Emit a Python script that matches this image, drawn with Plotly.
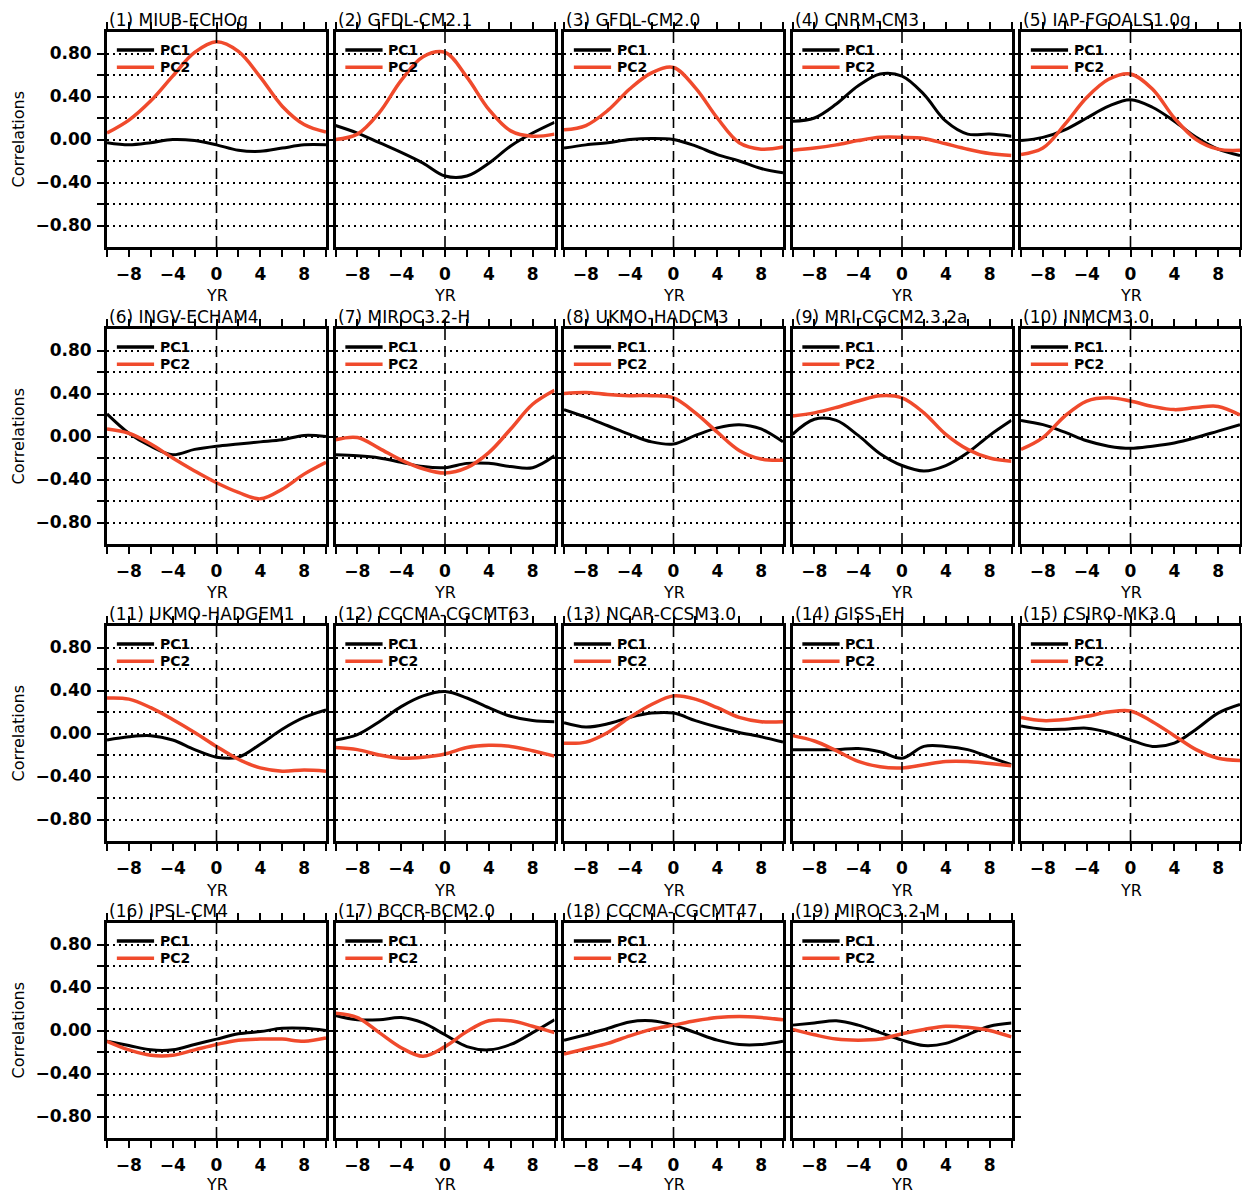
import plotly.graph_objects as go

# ---------------- data ----------------
lags = [-10, -8, -6, -4, -2, 0, 2, 4, 6, 8, 10]

models = ["(1) MIUB-ECHOg", "(2) GFDL-CM2.1", "(3) GFDL-CM2.0", "(4) CNRM-CM3",
          "(5) IAP-FGOALS1.0g", "(6) INGV-ECHAM4", "(7) MIROC3.2-H", "(8) UKMO-HADCM3",
          "(9) MRI-CGCM2.3.2a", "(10) INMCM3.0", "(11) UKMO-HADGEM1", "(12) CCCMA-CGCMT63",
          "(13) NCAR-CCSM3.0", "(14) GISS-EH", "(15) CSIRO-MK3.0", "(16) IPSL-CM4",
          "(17) BCCR-BCM2.0", "(18) CCCMA-CGCMT47", "(19) MIROC3.2-M"]

pc1_01 = [-0.03, -0.05, -0.03, 0.00, -0.01, -0.05, -0.10, -0.11, -0.08, -0.05, -0.05]
pc2_01 = [0.06, 0.18, 0.36, 0.59, 0.81, 0.91, 0.82, 0.58, 0.31, 0.14, 0.07]
pc1_02 = [0.13, 0.06, -0.03, -0.12, -0.22, -0.34, -0.34, -0.22, -0.06, 0.06, 0.16]
pc2_02 = [0.00, 0.05, 0.25, 0.55, 0.77, 0.81, 0.58, 0.28, 0.08, 0.03, 0.05]
pc1_03 = [-0.08, -0.05, -0.03, 0.00, 0.01, 0.00, -0.06, -0.14, -0.20, -0.27, -0.31]
pc2_03 = [0.09, 0.13, 0.27, 0.47, 0.62, 0.67, 0.48, 0.20, -0.03, -0.09, -0.07]
pc1_04 = [0.17, 0.20, 0.33, 0.50, 0.61, 0.59, 0.42, 0.17, 0.05, 0.05, 0.03]
pc2_04 = [-0.10, -0.08, -0.05, -0.01, 0.02, 0.02, 0.01, -0.04, -0.09, -0.13, -0.15]
pc1_05 = [-0.01, 0.02, 0.09, 0.20, 0.31, 0.37, 0.30, 0.17, 0.02, -0.09, -0.15]
pc2_05 = [-0.14, -0.08, 0.14, 0.39, 0.56, 0.61, 0.47, 0.20, 0.00, -0.09, -0.10]
pc1_06 = [0.21, 0.03, -0.09, -0.17, -0.12, -0.09, -0.07, -0.05, -0.03, 0.01, 0.00]
pc2_06 = [0.07, 0.03, -0.07, -0.20, -0.32, -0.43, -0.52, -0.58, -0.49, -0.35, -0.24]
pc1_07 = [-0.17, -0.18, -0.20, -0.24, -0.28, -0.29, -0.25, -0.25, -0.28, -0.29, -0.18]
pc2_07 = [-0.03, -0.01, -0.11, -0.22, -0.30, -0.34, -0.29, -0.15, 0.07, 0.30, 0.43]
pc1_08 = [0.25, 0.18, 0.10, 0.02, -0.05, -0.07, 0.01, 0.08, 0.11, 0.07, -0.05]
pc2_08 = [0.40, 0.41, 0.39, 0.38, 0.38, 0.36, 0.22, 0.04, -0.13, -0.21, -0.22]
pc1_09 = [0.02, 0.16, 0.15, 0.01, -0.16, -0.27, -0.32, -0.27, -0.15, 0.01, 0.15]
pc2_09 = [0.19, 0.22, 0.27, 0.33, 0.38, 0.36, 0.22, 0.02, -0.12, -0.20, -0.23]
pc1_10 = [0.15, 0.11, 0.04, -0.04, -0.09, -0.11, -0.09, -0.06, -0.01, 0.05, 0.11]
pc2_10 = [-0.12, -0.01, 0.19, 0.33, 0.36, 0.33, 0.28, 0.25, 0.27, 0.28, 0.20]
pc1_11 = [-0.06, -0.03, -0.02, -0.06, -0.15, -0.22, -0.22, -0.10, 0.04, 0.15, 0.22]
pc2_11 = [0.33, 0.32, 0.24, 0.13, 0.01, -0.12, -0.24, -0.32, -0.35, -0.34, -0.35]
pc1_12 = [-0.06, -0.01, 0.11, 0.25, 0.35, 0.39, 0.33, 0.24, 0.16, 0.12, 0.11]
pc2_12 = [-0.13, -0.15, -0.20, -0.23, -0.22, -0.19, -0.13, -0.11, -0.12, -0.16, -0.21]
pc1_13 = [0.10, 0.06, 0.09, 0.15, 0.19, 0.19, 0.12, 0.06, 0.01, -0.03, -0.08]
pc2_13 = [-0.09, -0.08, 0.01, 0.15, 0.27, 0.35, 0.32, 0.24, 0.15, 0.11, 0.11]
pc1_14 = [-0.15, -0.15, -0.15, -0.14, -0.17, -0.23, -0.12, -0.12, -0.15, -0.22, -0.29]
pc2_14 = [-0.02, -0.07, -0.16, -0.26, -0.31, -0.32, -0.29, -0.26, -0.26, -0.28, -0.30]
pc1_15 = [0.07, 0.04, 0.04, 0.05, 0.01, -0.06, -0.12, -0.09, 0.04, 0.19, 0.27]
pc2_15 = [0.15, 0.12, 0.13, 0.16, 0.20, 0.21, 0.11, -0.02, -0.15, -0.23, -0.25]
pc1_16 = [-0.10, -0.14, -0.18, -0.18, -0.13, -0.08, -0.03, -0.01, 0.02, 0.02, 0.00]
pc2_16 = [-0.10, -0.18, -0.23, -0.23, -0.18, -0.13, -0.09, -0.08, -0.08, -0.10, -0.07]
pc1_17 = [0.14, 0.10, 0.10, 0.12, 0.07, -0.04, -0.15, -0.18, -0.13, -0.02, 0.10]
pc2_17 = [0.16, 0.12, -0.02, -0.16, -0.24, -0.15, -0.01, 0.09, 0.09, 0.04, -0.02]
pc1_18 = [-0.09, -0.04, 0.02, 0.08, 0.09, 0.05, -0.02, -0.09, -0.13, -0.13, -0.10]
pc2_18 = [-0.22, -0.17, -0.12, -0.05, 0.01, 0.05, 0.09, 0.12, 0.13, 0.12, 0.10]
pc1_19 = [0.05, 0.07, 0.09, 0.05, -0.02, -0.09, -0.14, -0.12, -0.04, 0.04, 0.07]
pc2_19 = [0.01, -0.04, -0.08, -0.09, -0.08, -0.03, 0.01, 0.04, 0.03, 0.00, -0.06]

pc1_all = [pc1_01, pc1_02, pc1_03, pc1_04, pc1_05, pc1_06, pc1_07, pc1_08, pc1_09, pc1_10,
           pc1_11, pc1_12, pc1_13, pc1_14, pc1_15, pc1_16, pc1_17, pc1_18, pc1_19]
pc2_all = [pc2_01, pc2_02, pc2_03, pc2_04, pc2_05, pc2_06, pc2_07, pc2_08, pc2_09, pc2_10,
           pc2_11, pc2_12, pc2_13, pc2_14, pc2_15, pc2_16, pc2_17, pc2_18, pc2_19]

xtick_vals = [-10, -8, -6, -4, -2, 0, 2, 4, 6, 8, 10]
xtick_text = ["", "\u22128", "", "\u22124", "", "0", "", "4", "", "8", ""]
ytick_vals = [-0.8, -0.6, -0.4, -0.2, 0.0, 0.2, 0.4, 0.6, 0.8]
ytick_text = ["\u22120.80", "", "\u22120.40", "", "0.00", "", "0.40", "", "0.80"]

# ---------------- layout ----------------
# the page body adds an 8 px margin, so the figure is 8 px smaller and
# every position is shifted 8 px up/left
OFF = 8
W, H = 1250 - OFF, 1195 - OFF
FONT = "DejaVu Sans"
RED = "#f04a2c"
BLACK = "#000000"
panel_left0, panel_dx, panel_w = 107 - OFF, 228.5, 219
panel_top0, panel_dy, panel_h = 32 - OFF, 297, 215

fig = go.Figure()
annotations = []
shapes = []
layout = {}

for i, name in enumerate(models):
    n = i + 1
    r, c = divmod(i, 5)
    left = panel_left0 + c * panel_dx
    top = panel_top0 + r * panel_dy
    xd = [left / W, (left + panel_w) / W]
    yd = [1 - (top + panel_h) / H, 1 - top / H]
    suf = "" if n == 1 else str(n)
    xa, ya = "x" + suf, "y" + suf

    fig.add_trace(go.Scatter(x=lags, y=pc1_all[i], mode="lines", xaxis=xa, yaxis=ya,
                             line=dict(color=BLACK, width=3, shape="spline", smoothing=1.0),
                             showlegend=False, hoverinfo="skip"))
    fig.add_trace(go.Scatter(x=lags, y=pc2_all[i], mode="lines", xaxis=xa, yaxis=ya,
                             line=dict(color=RED, width=3.5, shape="spline", smoothing=1.0),
                             showlegend=False, hoverinfo="skip"))

    layout["xaxis" + suf] = dict(
        domain=xd, anchor=ya, range=[-10, 10], fixedrange=True,
        tickmode="array", tickvals=xtick_vals, ticktext=xtick_text,
        ticks="outside", ticklen=7, tickwidth=2.2, tickcolor=BLACK,
        showline=True, linewidth=2.8, linecolor=BLACK, mirror="allticks",
        showgrid=False, zeroline=False,
        tickfont=dict(family=FONT, size=17, color=BLACK, weight="bold"),
        ticklabelstandoff=3,
    )
    layout["yaxis" + suf] = dict(
        domain=yd, anchor=xa, range=[-1, 1], fixedrange=True,
        tickmode="array", tickvals=ytick_vals, ticktext=ytick_text,
        ticks="outside", ticklen=7, tickwidth=2.2, tickcolor=BLACK,
        showline=True, linewidth=2.8, linecolor=BLACK, mirror="allticks",
        showgrid=True, gridcolor=BLACK, gridwidth=1.6, griddash="2px,4px",
        zeroline=False, showticklabels=(c == 0),
        tickfont=dict(family=FONT, size=17, color=BLACK, weight="bold"),
        ticklabelstandoff=2,
    )

    # dashed zero-lag line
    shapes.append(dict(type="line", xref=xa, yref=f"{ya} domain", x0=0, x1=0, y0=0, y1=1,
                       line=dict(color=BLACK, width=1.6, dash="11px,6px"), layer="above"))
    # in-panel legend
    for lab, col, yy in [("PC1", BLACK, 0.916), ("PC2", RED, 0.836)]:
        shapes.append(dict(type="line", xref=f"{xa} domain", yref=f"{ya} domain",
                           x0=0.045, x1=0.215, y0=yy, y1=yy,
                           line=dict(color=col, width=3.5), layer="above"))
        annotations.append(dict(text=lab, xref=f"{xa} domain", yref=f"{ya} domain",
                                x=0.232, y=yy, xanchor="left", yanchor="middle",
                                showarrow=False,
                                font=dict(family=FONT, size=14, color=BLACK, weight="bold")))
    # title
    annotations.append(dict(text=name, xref="paper", yref="paper",
                            x=left / W, y=yd[1], xanchor="left", yanchor="bottom",
                            yshift=0, showarrow=False,
                            font=dict(family=FONT, size=17, color=BLACK)))
    # YR label
    annotations.append(dict(text="YR", xref="paper", yref="paper",
                            x=(left + panel_w / 2) / W, y=yd[0], xanchor="center",
                            yanchor="middle", yshift=(-49 if r < 3 else -46),
                            showarrow=False,
                            font=dict(family=FONT, size=16, color=BLACK)))
    if c == 0:
        annotations.append(dict(text="Correlations", xref="paper", yref="paper",
                                x=10 / W, y=(yd[0] + yd[1]) / 2, xanchor="center",
                                yanchor="middle", textangle=-90, showarrow=False,
                                font=dict(family=FONT, size=16, color=BLACK)))

fig.update_layout(width=W, height=H, margin=dict(l=0, r=0, t=0, b=0),
                  paper_bgcolor="white", plot_bgcolor="white",
                  annotations=annotations, shapes=shapes, showlegend=False, **layout)

fig.write_html("out.html")
